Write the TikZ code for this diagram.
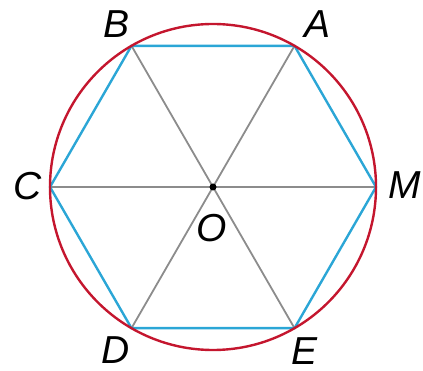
\documentclass[tikz,border=0pt]{standalone}
\usepackage{fontspec}
\setmainfont{Liberation Sans}
\usetikzlibrary{positioning}
\definecolor{ringred}{HTML}{C4162E}
\definecolor{hexblue}{HTML}{2BA6D6}
\definecolor{spokegray}{HTML}{8C8C8C}
\tikzset{
  % --- lines ------------------------------------------------------------------
  ring/.style={draw=ringred,line width=2.4pt},
  hexside/.style={hexblue,line width=2.4pt,line join=miter},
  spoke/.style={spokegray,line width=1.8pt},
  % --- labels -----------------------------------------------------------------
  ptlab/.style={inner sep=0pt,font=\fontsize{39}{42}\selectfont\itshape},
  centre/.style={circle,fill=black,inner sep=0pt,minimum size=7pt},
}
\begin{document}
\begin{tikzpicture}[x=1pt, y=-1pt]
  \useasboundingbox (0,0) rectangle (423,371);
  \begin{scope}
  \clip (0,0) rectangle (423,371);
  \coordinate (O) at (213,187);
  \path (O) ++(0:163)   coordinate (vM)
        (O) ++(-60:163) coordinate (vA)
        (O) ++(-120:163) coordinate (vB)
        (O) ++(180:163) coordinate (vC)
        (O) ++(120:163) coordinate (vD)
        (O) ++(60:163)  coordinate (vE);

  \draw[spoke] (vA) -- (vD);
  \draw[spoke] (vB) -- (vE);
  \draw[spoke] (vC) -- (vM);
  \draw[hexside] (vA) -- (vB) -- (vC) -- (vD) -- (vE) -- (vM) -- cycle;
  \draw[ring] (O) circle[radius=163];
  \node[centre] (o) at (O) {};

  \node[ptlab] (lA) at (318,24)  {A};
  \node[ptlab] (lB) at (117,24)  {B};
  \node[ptlab] (lC) at (28,186)  {C};
  \node[ptlab] (lM) at (405,185) {M};
  \node[ptlab] (lO) at (212,228) {O};
  \node[ptlab] (lD) at (116,350) {D};
  \node[ptlab] (lE) at (305,351) {E};
  \end{scope}
\end{tikzpicture}
\end{document}
